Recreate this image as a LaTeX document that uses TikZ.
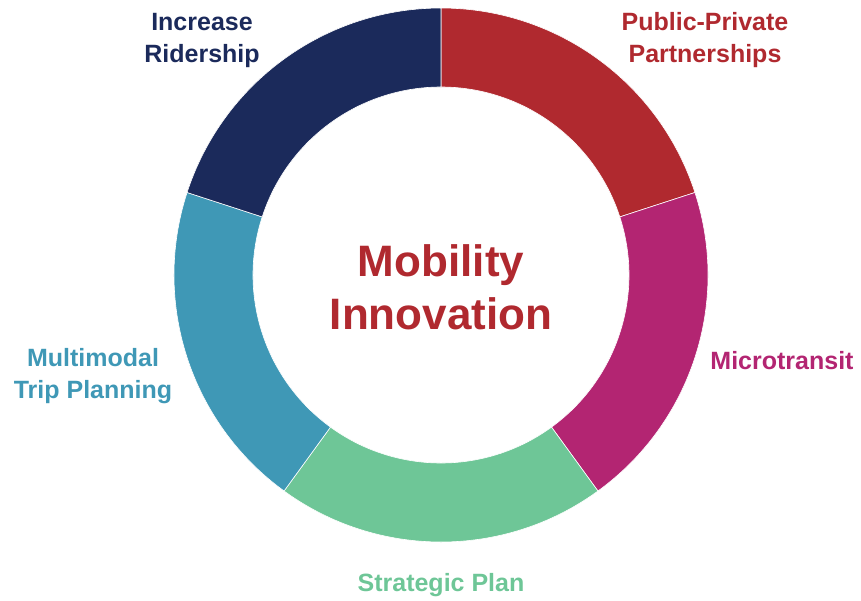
\documentclass[tikz,border=0pt]{standalone}
\usepackage{fontspec}
\setmainfont{Liberation Sans}
\usetikzlibrary{positioning}
\definecolor{ppred}{HTML}{B0292F}
\definecolor{mtmagenta}{HTML}{B32572}
\definecolor{spgreen}{HTML}{6EC697}
\definecolor{mmteal}{HTML}{3F98B6}
\definecolor{irnavy}{HTML}{1B2A5B}

\begin{document}
\begin{tikzpicture}[x=1pt,y=1pt,
    label text/.style={font=\fontsize{25}{32}\selectfont\bfseries, align=center},
    title text/.style={font=\fontsize{44}{53}\selectfont\bfseries, align=center, text=ppred}]
  \useasboundingbox (0,0) rectangle (861,-600);
  \coordinate (ctr) at (441,-275);
  % ring segments, clockwise from the top
  \foreach \a/\c in {90/ppred, 18/mtmagenta, -54/spgreen, -126/mmteal, -198/irnavy}
    \filldraw[fill=\c, draw=white, line width=0.6]
      ([shift={(\a:267)}]ctr) arc[start angle=\a, end angle={\a-72}, radius=267]
      -- ([shift={({\a-72}:188)}]ctr) arc[start angle={\a-72}, end angle=\a, radius=188] -- cycle;
  \node[title text] (mobility) at (441,-287) {Mobility\\Innovation};
  \node[label text, text=irnavy] (ridership) at (202,-40) {Increase\\Ridership};
  \node[label text, text=ppred] (partners) at (705,-40) {Public-Private\\Partnerships};
  \node[label text, text=mtmagenta] (microtransit) at (782,-361) {Microtransit};
  \node[label text, text=mmteal] (multimodal) at (93,-376) {Multimodal\\Trip Planning};
  \node[label text, text=spgreen] (strategic) at (441,-585) {Strategic Plan};
\end{tikzpicture}
\end{document}
